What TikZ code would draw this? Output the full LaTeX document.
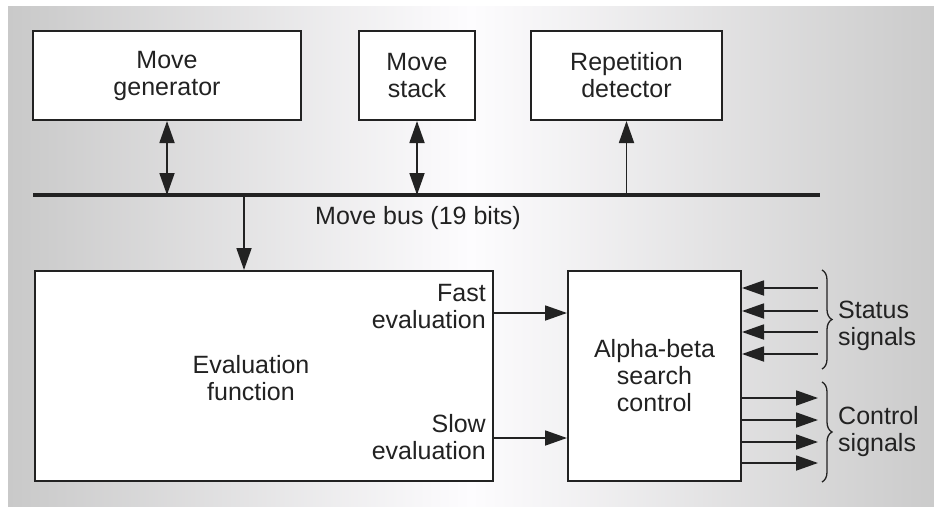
\documentclass[tikz,border=0pt]{standalone}
\usepackage{fontspec}
\setmainfont{Liberation Sans}
\usetikzlibrary{arrows.meta,decorations.pathreplacing}
\definecolor{bgleft}{HTML}{C9C9C9}
\definecolor{bglight}{HTML}{FDFCFE}
\definecolor{bgright}{HTML}{CBCBCB}
\definecolor{ink}{HTML}{222222}
\begin{document}
\begin{tikzpicture}[x=1pt,y=-1pt,
  box/.style={draw=ink, line width=2pt, fill=white, inner sep=0pt, align=center,
    font=\fontsize{25}{27}\selectfont, text=ink},
  lbl/.style={font=\fontsize{25}{27}\selectfont, text=ink, inner sep=0pt},
  conn/.style={draw=ink, line width=1.8pt},
  tip/.style={-{Triangle[length=22pt,width=15pt]}},
  dtip/.style={{Triangle[length=22pt,width=15pt]}-{Triangle[length=22pt,width=15pt]}},
  brc/.style={draw=ink, line width=1.3pt, decorate, decoration={brace, amplitude=10pt}}
]
\useasboundingbox (0,0) rectangle (934,506);
\shade[left color=bgleft, right color=bgright, middle color=bglight] (8,6) rectangle (934,506);

% top boxes
\node[box, minimum width=268pt, minimum height=89pt] (mg) at (167,75.5) {Move\\generator};
\node[box, minimum width=116pt, minimum height=89pt] (ms) at (417,75.5) {Move\\stack};
\node[box, minimum width=191pt, minimum height=89pt] (rd) at (626.5,75.5) {Repetition\\detector};

% bus
\coordinate (busL) at (33,195);
\coordinate (busR) at (820,195);
\draw[ink, line width=4pt] (busL) -- (busR);
\node[lbl] (busl) at (418,218) {Move bus (19 bits)};

% lower boxes
\node[box, minimum width=458pt, minimum height=210pt] (ev) at (264,376) {};
\node[lbl, align=center] (evl) at (251,378) {Evaluation\\function};
\node[lbl, align=right, anchor=east] (fast) at (486,307) {Fast\\evaluation};
\node[lbl, align=right, anchor=east] (slow) at (486,437) {Slow\\evaluation};
\node[box, minimum width=173pt, minimum height=210pt] (ab) at (654.5,376) {Alpha-beta\\search\\control};

% bus connectors
\draw[conn, dtip] (mg.south) -- (mg.south |- busL);
\draw[conn, dtip] (ms.south) -- (ms.south |- busL);
\draw[conn, tip] (rd.south |- busL) -- (rd.south);
\coordinate (dn) at (244,195);
\draw[conn, tip] (dn) -- (dn |- ev.north);

% evaluation outputs
\draw[conn, tip] ([yshift=63pt]ev.east) -- ([yshift=63pt]ab.west);
\draw[conn, tip] ([yshift=-62pt]ev.east) -- ([yshift=-62pt]ab.west);

% status signals
\coordinate (s1) at (818,288);
\coordinate (s2) at (818,311);
\coordinate (s3) at (818,332);
\coordinate (s4) at (818,354);
\foreach \s in {s1,s2,s3,s4} \draw[conn, tip] (\s) -- (ab.east |- \s);

% control signals
\coordinate (c1) at (818,398);
\coordinate (c2) at (818,420);
\coordinate (c3) at (818,442);
\coordinate (c4) at (818,463);
\foreach \c in {c1,c2,c3,c4} \draw[conn, tip] (ab.east |- \c) -- (\c);

% braces
\coordinate (sb1) at (822,270);
\coordinate (sb2) at (822,369);
\coordinate (cb1) at (822,382);
\coordinate (cb2) at (822,482);
\draw[brc] (sb1) -- (sb2);
\draw[brc] (cb1) -- (cb2);
\node[lbl, align=left, anchor=west] (stl) at (838,326) {Status\\signals};
\node[lbl, align=left, anchor=west] (ctl) at (838,432) {Control\\signals};
\end{tikzpicture}
\end{document}
